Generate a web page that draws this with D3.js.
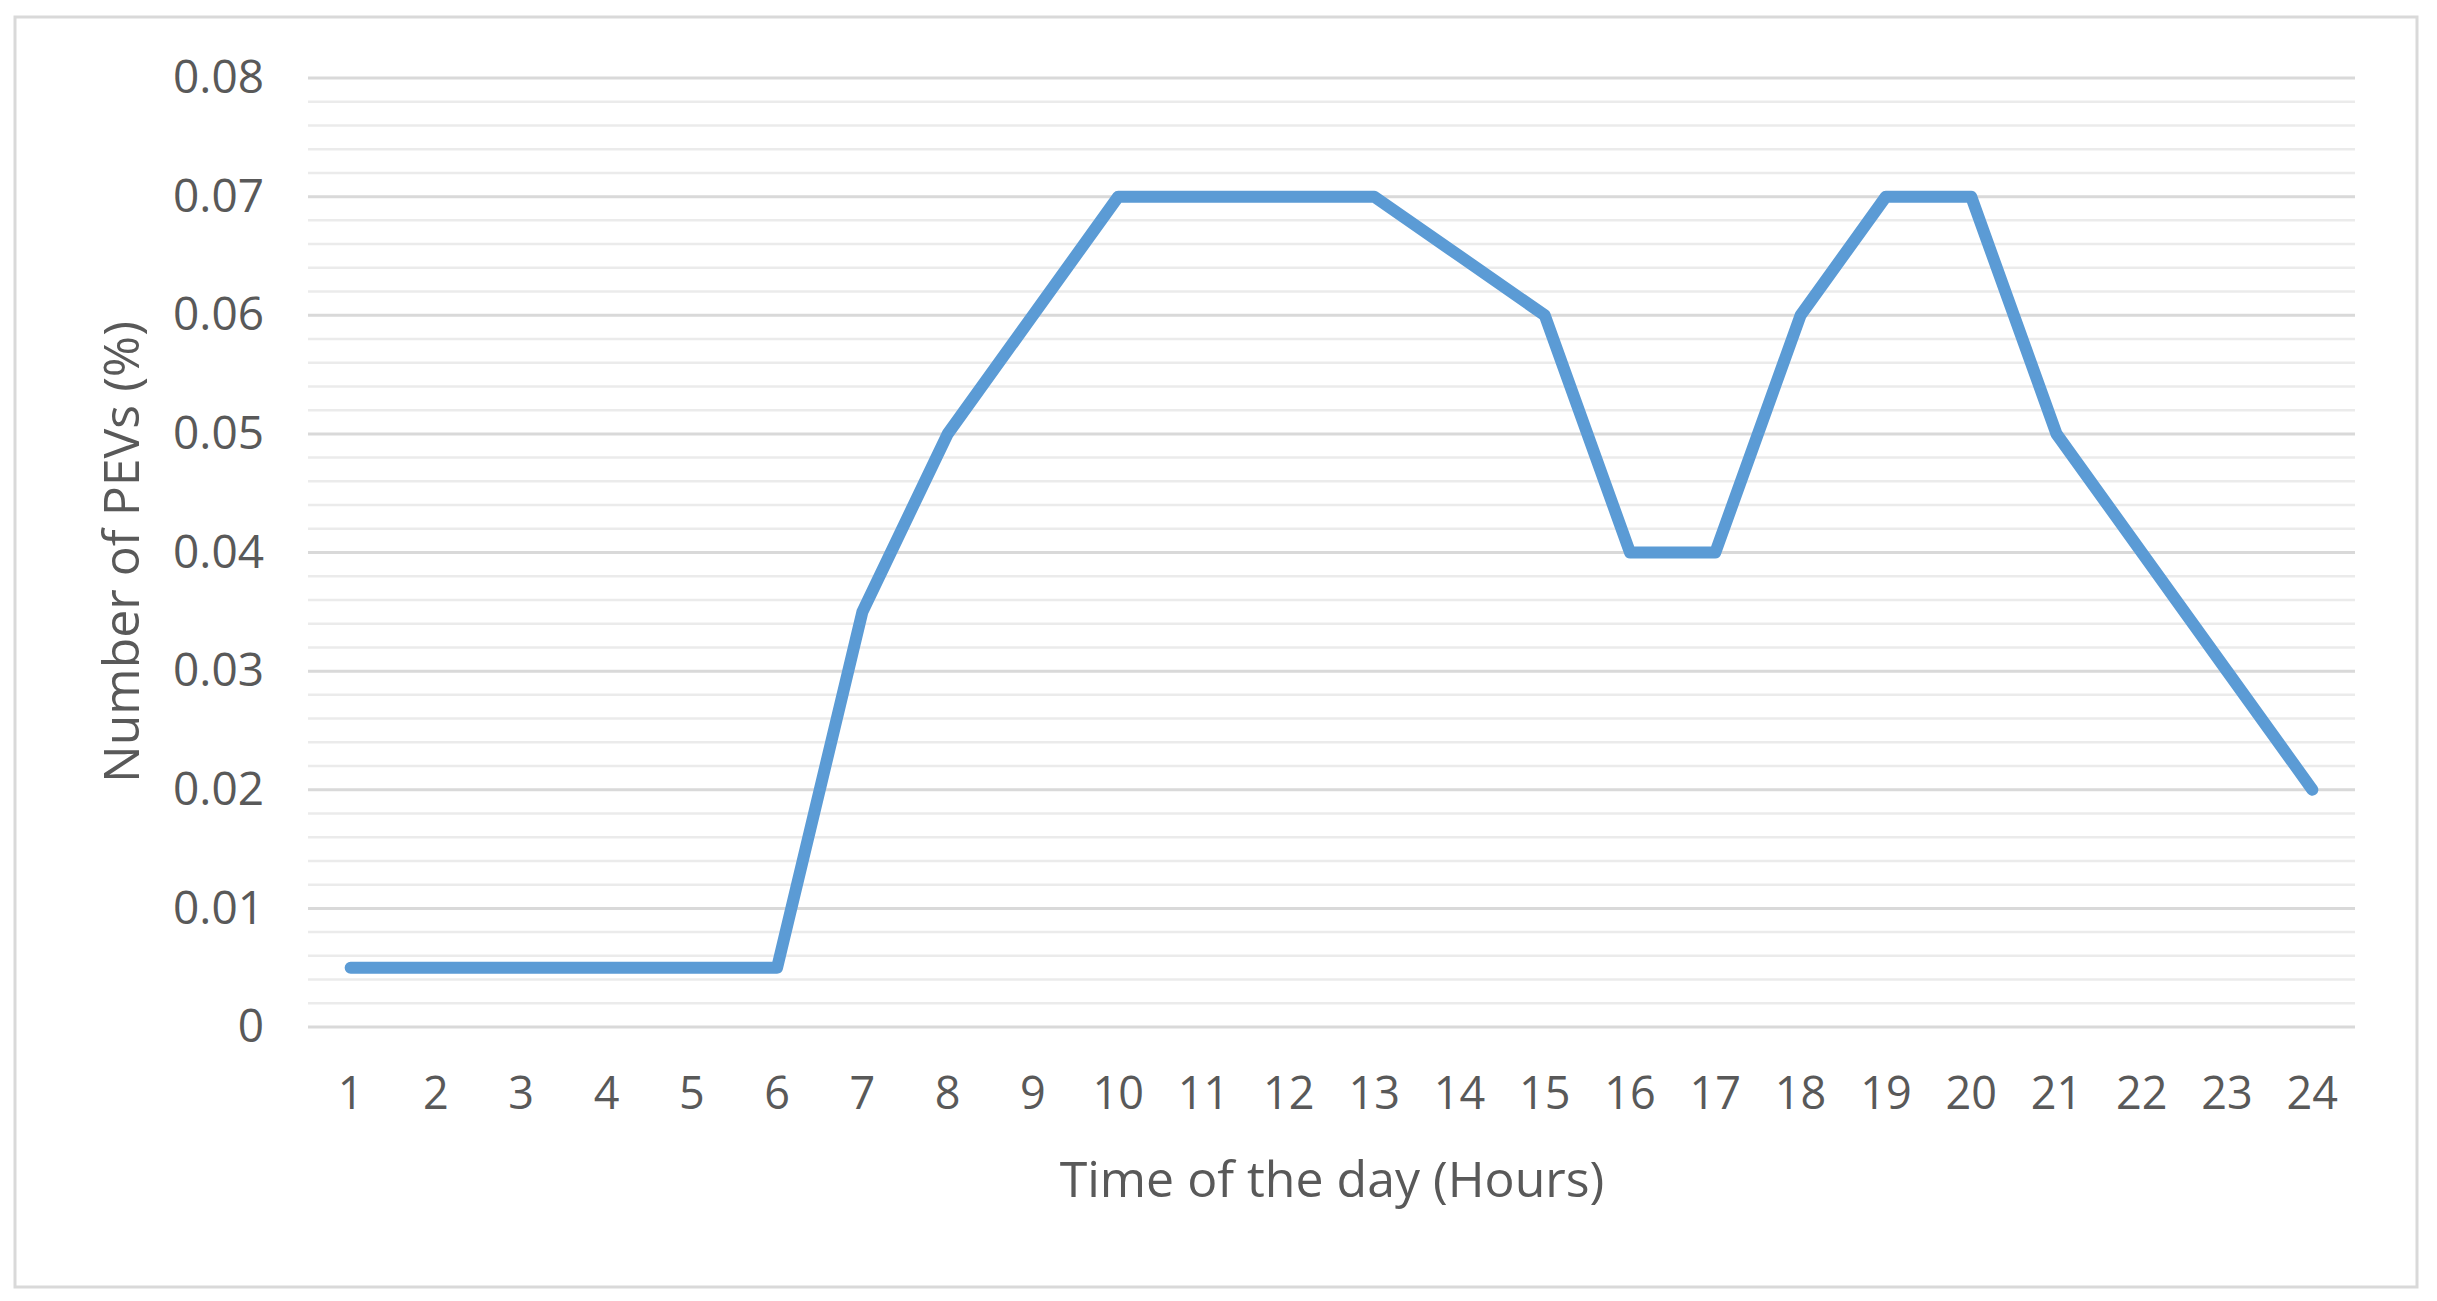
<!DOCTYPE html>
<html><head><meta charset="utf-8">
<script src="https://cdn.jsdelivr.net/npm/d3@7"></script>
<style>html,body{margin:0;padding:0;background:#fff;}svg{display:block;}</style>
</head><body>
<svg id="chart" width="2437" height="1301"></svg>
<script>
const hours = ["1","2","3","4","5","6","7","8","9","10","11","12","13","14","15","16","17","18","19","20","21","22","23","24"];
const pevShare = [0.005,0.005,0.005,0.005,0.005,0.005,0.035,0.05,0.06,0.07,0.07,0.07,0.07,0.065,0.06,0.04,0.04,0.06,0.07,0.07,0.05,0.04,0.03,0.02];
const yTicks = [0,0.01,0.02,0.03,0.04,0.05,0.06,0.07,0.08];
const yMinorTicks = d3.range(0, 0.0801, 0.002);
const xTitle = "Time of the day (Hours)";
const yTitle = "Number of PEVs (%)";

(function(){
const svg = d3.select("#chart");
const pLeft = 308, pRight = 2355, pTop = 78, pBottom = 1027;
const font = "'Open Sans', sans-serif";
const textColor = "#595959";

svg.append("rect").attr("x",15).attr("y",17).attr("width",2402).attr("height",1270)
  .attr("fill","#fff").attr("stroke","#d9d9d9").attr("stroke-width",3);

const x = d3.scaleBand().domain(hours).range([pLeft,pRight]);
const y = d3.scaleLinear().domain([0,0.08]).range([pBottom,pTop]);

// minor gridlines
svg.append("g").selectAll("line").data(yMinorTicks.filter(v => Math.abs(v*100 - Math.round(v*100)) > 1e-6))
  .join("line").attr("x1",pLeft).attr("x2",pRight)
  .attr("y1",d=>y(d)).attr("y2",d=>y(d))
  .attr("stroke","#ebebeb").attr("stroke-width",2.5);

// major gridlines
svg.append("g").selectAll("line").data(yTicks).join("line")
  .attr("x1",pLeft).attr("x2",pRight)
  .attr("y1",d=>y(d)).attr("y2",d=>y(d))
  .attr("stroke","#d9d9d9").attr("stroke-width",3);

// y axis
const yAxis = svg.append("g").attr("transform",`translate(${pLeft},0)`)
  .call(d3.axisLeft(y).tickValues(yTicks).tickFormat(d=>d===0?"0":d3.format(".2f")(d)).tickSize(0).tickPadding(44));
yAxis.select(".domain").remove();
yAxis.selectAll("text").attr("font-family",font).attr("font-size",46).attr("fill",textColor);

// x axis
const xAxis = svg.append("g").attr("transform",`translate(0,${pBottom})`)
  .call(d3.axisBottom(x).tickSize(0).tickPadding(50));
xAxis.select(".domain").remove();
xAxis.selectAll("text").attr("font-family",font).attr("font-size",45).attr("fill",textColor);

// line
const line = d3.line().x((d,i)=>x(hours[i])+x.bandwidth()/2).y(d=>y(d));
svg.append("path").datum(pevShare).attr("d",line)
  .attr("fill","none").attr("stroke","#5b9bd5").attr("stroke-width",12)
  .attr("stroke-linejoin","round").attr("stroke-linecap","round");

// titles
svg.append("text").attr("x",1332).attr("y",1178).attr("text-anchor","middle").attr("dominant-baseline","central")
  .attr("font-family",font).attr("font-size",50).attr("fill",textColor).text(xTitle);
svg.append("text").attr("transform","translate(120,552) rotate(-90)").attr("text-anchor","middle").attr("dominant-baseline","central")
  .attr("font-family",font).attr("font-size",50).attr("fill",textColor).text(yTitle);
})();
</script>
</body></html>
